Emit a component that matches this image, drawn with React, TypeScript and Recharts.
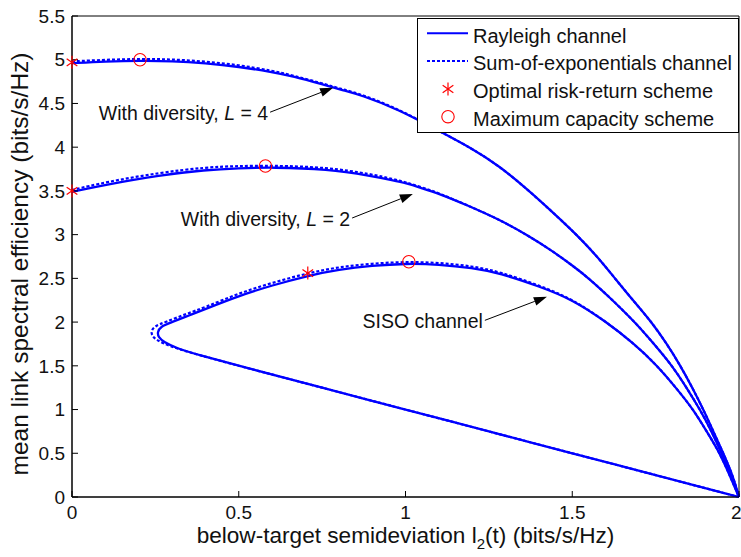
import React from 'react';
import {
  ComposedChart,
  Line,
  Scatter,
  XAxis,
  YAxis,
  CartesianGrid,
  Legend,
  ReferenceLine,
} from 'recharts';

const FONT = '"Liberation Sans", Arial, Helvetica, sans-serif';
const BLUE = '#0000ff';
const RED = '#ff0000';

const xTicks = [0, 0.5, 1, 1.5, 2];
const yTicks = [0, 0.5, 1, 1.5, 2, 2.5, 3, 3.5, 4, 4.5, 5, 5.5];

// [x, y] points
const sisoRayleigh = [
  [2.0, 0], [1.75, 0.25], [1.5, 0.5], [1.25, 0.75], [1.0, 1.0], [0.75, 1.25],
  [0.5, 1.5], [0.384, 1.62], [0.314, 1.7], [0.275, 1.77], [0.259, 1.83], [0.256, 1.88],
  [0.265, 1.95], [0.3, 2.0], [0.354, 2.08], [0.4, 2.15], [0.5, 2.3], [0.6, 2.42],
  [0.707, 2.53], [0.8, 2.6], [0.9, 2.645], [1.0, 2.67], [1.1, 2.66], [1.2, 2.62],
  [1.283, 2.56], [1.4, 2.41], [1.5, 2.26], [1.603, 2.0], [1.683, 1.76], [1.753, 1.51],
  [1.813, 1.24], [1.863, 1.0], [1.903, 0.75], [1.943, 0.5], [1.973, 0.24], [2.0, 0],
];
const sisoSumExp = [
  [2.0, 0], [1.75, 0.25], [1.5, 0.5], [1.25, 0.75], [1.0, 1.0], [0.75, 1.25],
  [0.5, 1.5], [0.384, 1.62], [0.32, 1.69], [0.27, 1.76], [0.244, 1.82], [0.236, 1.88],
  [0.245, 1.95], [0.28, 2.0], [0.34, 2.09], [0.4, 2.17], [0.5, 2.33], [0.6, 2.45],
  [0.707, 2.56], [0.8, 2.63], [0.9, 2.67], [1.0, 2.69], [1.1, 2.68], [1.2, 2.64],
  [1.283, 2.575], [1.4, 2.42], [1.5, 2.265], [1.603, 2.0], [1.683, 1.76], [1.753, 1.51],
  [1.813, 1.24], [1.863, 1.0], [1.903, 0.75], [1.943, 0.5], [1.973, 0.24], [2.0, 0],
];
const l2Rayleigh = [
  [0, 3.49], [0.1, 3.57], [0.264, 3.68], [0.4, 3.74], [0.5, 3.76], [0.6, 3.77],
  [0.765, 3.75], [0.9, 3.67], [0.963, 3.62], [1.0, 3.59], [1.05, 3.53], [1.1, 3.47],
  [1.183, 3.34], [1.283, 3.17], [1.363, 3.0], [1.438, 2.82], [1.503, 2.64], [1.55, 2.5],
  [1.613, 2.28], [1.688, 2.0], [1.743, 1.76], [1.798, 1.51], [1.843, 1.25], [1.883, 1.0],
  [1.918, 0.75], [1.948, 0.5], [1.978, 0.23], [2.0, 0],
];
const l2SumExp = [
  [0, 3.51], [0.1, 3.6], [0.264, 3.71], [0.4, 3.77], [0.5, 3.785], [0.6, 3.79],
  [0.765, 3.77], [0.9, 3.69], [0.963, 3.635], [1.0, 3.6], [1.05, 3.54], [1.1, 3.475],
  [1.183, 3.34], [1.283, 3.17], [1.363, 3.0], [1.438, 2.82], [1.503, 2.64], [1.55, 2.5],
  [1.613, 2.28], [1.688, 2.0], [1.743, 1.76], [1.798, 1.51], [1.843, 1.25], [1.883, 1.0],
  [1.918, 0.75], [1.948, 0.5], [1.978, 0.23], [2.0, 0],
];
const l4Rayleigh = [
  [0, 4.96], [0.1, 4.98], [0.204, 4.99], [0.3, 4.985], [0.4, 4.96], [0.5, 4.92],
  [0.6, 4.86], [0.663, 4.81], [0.75, 4.72], [0.813, 4.65], [0.864, 4.6], [0.983, 4.425],
  [1.083, 4.22], [1.198, 3.99], [1.283, 3.78], [1.368, 3.51], [1.443, 3.25], [1.513, 3.0],
  [1.575, 2.75], [1.628, 2.5], [1.683, 2.245], [1.738, 2.0], [1.782, 1.76], [1.823, 1.51],
  [1.863, 1.23], [1.893, 1.0], [1.923, 0.75], [1.953, 0.5], [1.983, 0.23], [2.0, 0],
];
const l4SumExp = [
  [0, 4.98], [0.1, 5.0], [0.204, 5.01], [0.3, 5.005], [0.4, 4.98], [0.5, 4.94],
  [0.6, 4.875], [0.663, 4.82], [0.75, 4.73], [0.813, 4.66], [0.864, 4.61], [0.983, 4.43],
  [1.083, 4.22], [1.198, 3.99], [1.283, 3.78], [1.368, 3.51], [1.443, 3.25], [1.513, 3.0],
  [1.575, 2.75], [1.628, 2.5], [1.683, 2.245], [1.738, 2.0], [1.782, 1.76], [1.823, 1.51],
  [1.863, 1.23], [1.893, 1.0], [1.923, 0.75], [1.953, 0.5], [1.983, 0.23], [2.0, 0],
];
const optimalPts = [[0, 4.97], [0, 3.5], [0.707, 2.56]];
const maxCapPts = [[0.204, 5.0], [0.58, 3.785], [1.01, 2.69]];

// annotation: text, arrow tail, arrow head
const notes = [
  { label: 'With diversity, ', tag: '4', tail: [0.594, 4.4], head: [0.783, 4.68] },
  { label: 'With diversity, ', tag: '2', tail: [0.84, 3.19], head: [1.022, 3.465] },
  { label: 'SISO channel', tag: '', tail: [1.238, 2.02], head: [1.424, 2.29] },
];

const toPts = (arr: number[][]) => arr.map(([x, y]) => ({ x, y }));

const Star = ({ cx, cy }: any) => {
  const r = 6.5;
  const a = r * 0.82;
  const b = r * 0.57;
  return (
    <g stroke={RED} strokeWidth={1.2}>
      <line x1={cx} y1={cy - r} x2={cx} y2={cy + r} />
      <line x1={cx - a} y1={cy - b} x2={cx + a} y2={cy + b} />
      <line x1={cx - a} y1={cy + b} x2={cx + a} y2={cy - b} />
    </g>
  );
};

const Ring = ({ cx, cy }: any) => (
  <circle cx={cx} cy={cy} r={6.2} fill="none" stroke={RED} strokeWidth={1.1} />
);

const makeArrow = (note: (typeof notes)[number]) => (p: any) => {
  const { x1, y1, x2, y2 } = p;
  const ang = Math.atan2(y2 - y1, x2 - x1);
  const len = 13;
  const w = 4.5;
  const bx = x2 - len * Math.cos(ang);
  const by = y2 - len * Math.sin(ang);
  const nx = -Math.sin(ang) * w;
  const ny = Math.cos(ang) * w;
  return (
    <g>
      <line x1={x1} y1={y1} x2={bx} y2={by} stroke="#000" strokeWidth={1} />
      <polygon points={`${x2},${y2} ${bx + nx},${by + ny} ${bx - nx},${by - ny}`} fill="#000" />
      <text
        x={x1 - 2}
        y={y1 + 7.5}
        textAnchor="end"
        fontFamily={FONT}
        fontSize={19.5}
        fill="#111"
      >
        {note.label}
        {note.tag && (
          <>
            <tspan fontStyle="italic">L</tspan>
            <tspan>{` = ${note.tag}`}</tspan>
          </>
        )}
      </text>
    </g>
  );
};

const LegendBox = () => {
  const rows = [33.3, 61, 89, 116.7].map((v) => v - 18);
  return (
    <svg width={322} height={115} style={{ display: 'block' }}>
      <rect x={0.5} y={0.5} width={321} height={114} fill="#fff" stroke="#000" strokeWidth={1} />
      <line x1={10} x2={51} y1={rows[0]} y2={rows[0]} stroke={BLUE} strokeWidth={2} />
      <line x1={10} x2={51} y1={rows[1]} y2={rows[1]} stroke={BLUE} strokeWidth={2} strokeDasharray="3 2" />
      <Star cx={31} cy={rows[2]} />
      <Ring cx={31} cy={rows[3]} />
      {['Rayleigh channel', 'Sum-of-exponentials channel', 'Optimal risk-return scheme', 'Maximum capacity scheme'].map(
        (t, i) => (
          <text key={t} x={56} y={rows[i] + 9.4} fontFamily={FONT} fontSize={20} fill="#111">
            {t}
          </text>
        ),
      )}
    </svg>
  );
};

const XLabel = ({ viewBox }: any) => {
  const cx = viewBox.x + viewBox.width / 2;
  return (
    <text x={cx} y={viewBox.y + 46} textAnchor="middle" fontFamily={FONT} fontSize={22.6} fill="#111">
      below-target semideviation l
      <tspan fontSize={15} dy={6}>2</tspan>
      <tspan dy={-6}>(t) (bits/s/Hz)</tspan>
    </text>
  );
};

const YLabel = () => {
  const cy = 264;
  const x = 27.5;
  return (
    <text
      x={x}
      y={cy}
      transform={`rotate(-90 ${x} ${cy})`}
      textAnchor="middle"
      fontFamily={FONT}
      fontSize={24.5}
      fill="#111"
    >
      mean link spectral efficiency (bits/s/Hz)
    </text>
  );
};

const tickStyle = { fontFamily: FONT, fontSize: 19, fill: '#111' };

export default function App() {
  return (
    <div style={{ position: 'absolute', left: 0, top: 0, width: 741, height: 557, background: '#fff' }}>
      <ComposedChart width={741} height={557} margin={{ top: 16, right: 2, bottom: 0, left: 0 }}>
        <CartesianGrid stroke="#000" strokeWidth={1} />
        <XAxis
          xAxisId="b"
          type="number"
          dataKey="x"
          domain={[0, 2]}
          ticks={xTicks}
          height={60}
          tick={tickStyle}
          tickSize={-6}
          tickMargin={15}
          stroke="#000"
          tickFormatter={(v) => String(v)}
          label={<XLabel />}
        />
        <XAxis
          xAxisId="t"
          orientation="top"
          type="number"
          dataKey="x"
          domain={[0, 2]}
          ticks={xTicks}
          height={0}
          tickSize={-6}
          tickFormatter={() => ''}
          stroke="#000"
        />
        <YAxis
          yAxisId="l"
          type="number"
          dataKey="y"
          domain={[0, 5.5]}
          ticks={yTicks}
          width={72}
          tick={tickStyle}
          tickSize={-6}
          tickMargin={13}
          stroke="#000"
          tickFormatter={(v) => String(v)}
          label={<YLabel />}
        />
        <YAxis
          yAxisId="r"
          orientation="right"
          type="number"
          dataKey="y"
          domain={[0, 5.5]}
          ticks={yTicks}
          width={0}
          tickSize={-6}
          tickFormatter={() => ''}
          stroke="#000"
        />
        {[sisoRayleigh, l2Rayleigh, l4Rayleigh].map((d, i) => (
          <Line
            key={'r' + i}
            xAxisId="b"
            yAxisId="l"
            data={toPts(d)}
            dataKey="y"
            type="basis"
            stroke={BLUE}
            strokeWidth={2.3}
            dot={false}
            isAnimationActive={false}
            legendType="none"
          />
        ))}
        {[sisoSumExp, l2SumExp, l4SumExp].map((d, i) => (
          <Line
            key={'s' + i}
            xAxisId="b"
            yAxisId="l"
            data={toPts(d)}
            dataKey="y"
            type="basis"
            stroke={BLUE}
            strokeWidth={2.2}
            strokeDasharray="3 2"
            dot={false}
            isAnimationActive={false}
            legendType="none"
          />
        ))}
        <Scatter xAxisId="b" yAxisId="l" data={toPts(optimalPts)} dataKey="y" shape={<Star />} isAnimationActive={false} />
        <Scatter xAxisId="b" yAxisId="l" data={toPts(maxCapPts)} dataKey="y" shape={<Ring />} isAnimationActive={false} />
        {notes.map((n, i) => (
          <ReferenceLine
            key={'n' + i}
            xAxisId="b"
            yAxisId="l"
            segment={[
              { x: n.tail[0], y: n.tail[1] },
              { x: n.head[0], y: n.head[1] },
            ]}
            shape={makeArrow(n)}
          />
        ))}
        <Legend
          layout="vertical"
          align="center"
          verticalAlign="middle"
          wrapperStyle={{ left: 417, top: 18, width: 322, height: 115 }}
          content={() => <LegendBox />}
        />
      </ComposedChart>
    </div>
  );
}
